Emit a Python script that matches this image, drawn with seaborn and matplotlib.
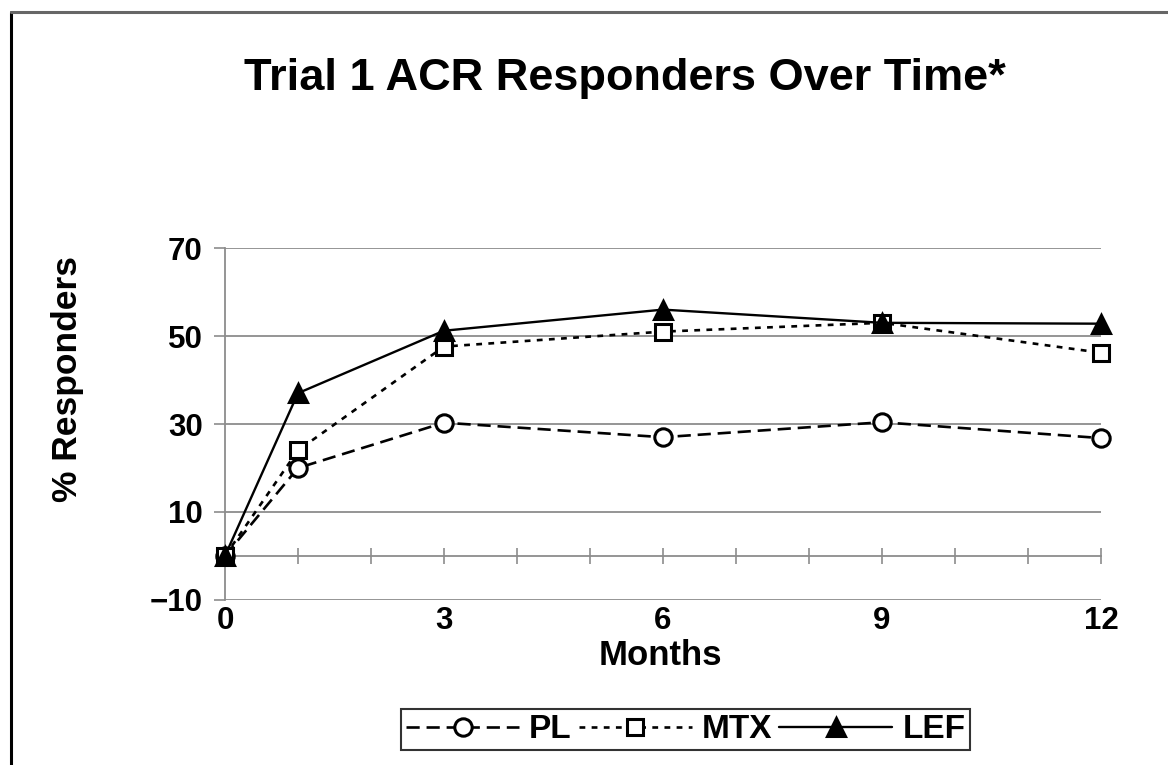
"""
Trial 1 ACR responders over time, redrawn with seaborn.
"""

# %% ---- Requirements and constants
import pandas as pd
import seaborn as sns
import matplotlib.pyplot as plt
from matplotlib.lines import Line2D

months = [0, 1, 3, 6, 9, 12]
pl = [0, 20, 30.3, 27, 30.4, 26.8]
mtx = [0, 24, 47.6, 51, 53, 46.2]
lef = [0, 37, 51.2, 56, 53, 52.8]

series_names = ['PL', 'MTX', 'LEF']
x_labels = [0, 3, 6, 9, 12]
y_ticks = [-10, 10, 30, 50, 70]

title = 'Trial 1 ACR Responders Over Time*'
x_title = 'Months'
y_title = '% Responders'

sns.set_theme(style='white')
plt.rcParams['font.family'] = ['Liberation Sans', 'DejaVu Sans']
plt.rcParams['font.weight'] = 'bold'
plt.rcParams['text.color'] = 'black'
plt.rcParams['xtick.color'] = 'black'
plt.rcParams['ytick.color'] = 'black'

# %% ---- Build frame
df = pd.DataFrame({
    'month': months * 3,
    'value': pl + mtx + lef,
    'group': sum([[n] * len(months) for n in series_names], []),
})

styles = {
    'PL': dict(marker='o', markerfacecolor='white', markersize=12.5,
               linestyle=(0, (5, 2.6)), linewidth=1.9),
    'MTX': dict(marker='s', markerfacecolor='white', markersize=11.5,
                linestyle=(0, (2.2, 2.4)), linewidth=1.9),
    'LEF': dict(marker='^', markerfacecolor='black', markersize=13.5,
                linestyle='-', linewidth=1.7),
}

# %% ---- Plot
fig = plt.figure(figsize=(11.68, 7.65), dpi=100)
ax = fig.add_axes([0.1926, 0.2157, 0.75, 0.4601])

grid_col = '#8c8c8c'
for yv in y_ticks:
    ax.axhline(yv, color=grid_col, linewidth=1.3, zorder=1)

for name in series_names:
    sub = df[df['group'] == name]
    sns.lineplot(data=sub, x='month', y='value', ax=ax, color='black',
                 markeredgecolor='black', markeredgewidth=2.2,
                 label=name, zorder=3, clip_on=False, **styles[name])

ax.set_xlim(0, 12)
ax.set_ylim(-10, 70)
ax.set_yticks(y_ticks)
ax.tick_params(axis='y', left=True, direction='out', length=8, width=1.2,
               color=grid_col, labelcolor='black', labelsize=22.5, pad=8)
for t in ax.get_yticklabels():
    t.set_fontweight('bold')

# x axis drawn through zero with a tick every month
ax.spines['bottom'].set_position(('data', 0))
ax.spines['bottom'].set_color(grid_col)
ax.spines['bottom'].set_linewidth(1.3)
ax.set_xticks(range(0, 13))
ax.tick_params(axis='x', bottom=True, direction='inout', length=12, width=1.2,
               color=grid_col, labelbottom=False)
ax.spines['left'].set_color(grid_col)
ax.spines['left'].set_linewidth(1.3)
ax.spines['top'].set_visible(False)
ax.spines['right'].set_visible(False)

sec = ax.secondary_xaxis(0)
sec.set_xticks(x_labels)
sec.tick_params(bottom=True, length=0, labelsize=22.5, pad=4, labelcolor='black')
sec.spines['bottom'].set_visible(False)
for t in sec.get_xticklabels():
    t.set_fontweight('bold')

ax.set_xlabel('')
ax.set_ylabel('')
fig.text(0.565, 0.143, x_title, ha='center', va='center', fontsize=25, fontweight='bold')
fig.text(0.058, 0.505, y_title, ha='center', va='center', rotation=90,
         fontsize=25.5, fontweight='bold')
fig.text(0.535, 0.897, title, ha='center', va='center', fontsize=32.5, fontweight='bold')

ax.get_legend().remove()
handles, labels = ax.get_legend_handles_labels()
leg = fig.legend(handles, labels, loc='center', bbox_to_anchor=(0.587, 0.046),
                 ncol=3, frameon=True, fancybox=False, edgecolor='black',
                 handlelength=3.4, handletextpad=0.3, columnspacing=0.2,
                 borderpad=0.15, borderaxespad=0, prop=dict(size=24, weight='bold'))
leg.get_frame().set_linewidth(1.5)

# outer frame of the original figure
fig.add_artist(Line2D([0.0094, 0.0094], [0, 0.984], color='black', linewidth=2.2,
                      transform=fig.transFigure))
fig.add_artist(Line2D([0.0094, 1], [0.984, 0.984], color='#666666', linewidth=2.2,
                      transform=fig.transFigure))

fig.savefig('out.png', dpi=100)
